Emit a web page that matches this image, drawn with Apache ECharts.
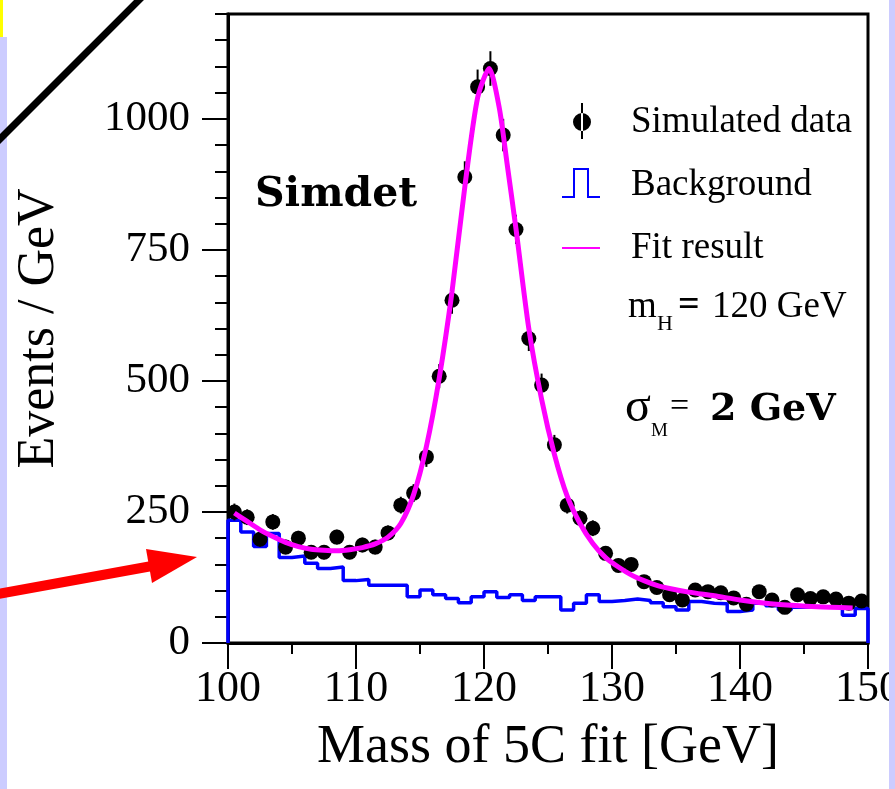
<!DOCTYPE html>
<html><head><meta charset="utf-8">
<script src="https://cdn.jsdelivr.net/npm/echarts@6/dist/echarts.min.js"></script>
<style>html,body{margin:0;padding:0;background:#fff;} #c{width:895px;height:789px;}</style>
</head><body><div id="c"></div>
<script>
// ---- data ----
const binLow = [100,101,102,103,104,105,106,107,108,109,110,111,112,113,114,115,116,117,118,119,
                120,121,122,123,124,125,126,127,128,129,130,131,132,133,134,135,136,137,138,139,
                140,141,142,143,144,145,146,147,148,149];
const binWidth = 1;
const dataValues = [250,240,198,231,183,200,173,173,202,173,187,183,210,263,286,355,509,654,889,1061,
                    1096,969,789,581,492,378,263,238,219,171,148,150,117,106,92,82,101,98,96,86,
                    74,98,82,68,92,85,88,84,76,80];
const dataErrors = [16,15,14,15,14,14,13,13,14,13,14,14,14,16,17,19,23,26,30,33,
                    33,31,28,24,22,19,16,15,15,13,12,12,11,10,10,9,10,10,10,9,
                    9,10,9,8,10,9,9,9,9,9];
const bgValues = [234,212,184,209,163,166,152,142,145,119,121,110,110,110,88,101,92,85,77,88,
                  98,87,92,81,88,88,63,76,92,79,81,84,81,77,69,63,79,76,75,60,
                  63,76,71,63,68,69,69,68,53,66];
const fitX = [100.5,101.5,102.5,103.5,104.5,105.5,106.5,107.5,108.5,109.5,110.5,111.5,112.5,113.5,114.5,
              115.5,116.5,117.5,118.5,119.5,120.4,121.2,121.8,122.5,123.5,124.5,125.5,126.5,127.5,128.5,
              129.5,130.5,131.5,132.5,133.5,134.5,136,138,140,142,144,146,148.8];
const fitY = [248,232,216,203,192,184,179,177,176,178,182,189,202,228,283,
              375,505,670,870,1040,1096,1020,915,790,600,465,360,280,228,190,
              163,145,130,119,110,104,97,90,82,76,72,69,67];
const xTicks = [100,110,120,130,140,150];
const yTicks = [0,250,500,750,1000];
const names = ['Simulated data','Background','Fit result'];

// ---- build series data ----
const pointData = binLow.map((b,i)=>[b+binWidth/2, dataValues[i], dataErrors[i]]);
const bgData = [[binLow[0],0]];
binLow.forEach((b,i)=>{ bgData.push([b,bgValues[i]]); bgData.push([b+binWidth,bgValues[i]]); });
bgData.push([binLow[binLow.length-1]+binWidth,0]);
const fitData = fitX.map((x,i)=>[x,fitY[i]]);

const serif = 'Liberation Serif, Times New Roman, serif';
const corners = 'M0,0 L0.2,0 L0,0.2 Z M64,40 L63.8,40 L64,39.8 Z ';
const iconData = 'path://' + corners + 'M19,1 L21,1 L21,37 L19,37 Z M11,20 A9,9 0 1 0 29,20 A9,9 0 1 0 11,20 Z';
const iconBg = 'path://' + corners + 'M0,31 L11,31 L11,3 L27,3 L27,31 L38,31 L38,33 L25,33 L25,5 L13,5 L13,33 L0,33 Z';
const iconFit = 'path://' + corners + 'M0,19 L38,19 L38,21 L0,21 Z';

function legendItem(name, icon, top){
  return {data:[{name:name, icon:icon}], left:562, top:top, padding:0, itemWidth:64, itemHeight:40,
          symbolKeepAspect:true, selectedMode:false, itemStyle:{borderWidth:0, opacity:1},
          textStyle:{fontSize:37, fontFamily:serif, color:'#000'}};
}

const chart = echarts.init(document.getElementById('c'), null, {renderer:'canvas'});
chart.setOption({
  animation:false,
  backgroundColor:'#fff',
  grid:{left:228, right:27, top:14, bottom:146, show:true, borderColor:'#000', borderWidth:3,
        backgroundColor:'#fff', containLabel:false, outerBoundsMode:'none'},
  legend:[legendItem(names[0], iconData, 102), legendItem(names[1], iconBg, 165), legendItem(names[2], iconFit, 228)],
  xAxis:{type:'value', min:xTicks[0], max:xTicks[xTicks.length-1], interval:10,
    name:'Mass of 5C fit [GeV]', nameLocation:'middle', nameGap:78, nameMoveOverlap:false,
    nameTextStyle:{fontSize:54, fontFamily:serif, color:'#000'},
    axisLine:{show:true, onZero:false, lineStyle:{color:'#000', width:3}},
    axisTick:{show:true, length:26, lineStyle:{color:'#000', width:2}},
    minorTick:{show:true, splitNumber:2, length:11, lineStyle:{color:'#000', width:2}},
    splitLine:{show:false}, minorSplitLine:{show:false},
    axisLabel:{fontSize:44, fontFamily:serif, color:'#000', margin:24, showMinLabel:true, showMaxLabel:true,
               formatter:function(v){return String(v);}}
  },
  yAxis:[
    {type:'value', min:0, max:1200, interval:50, position:'left',
     name:'Events / GeV', nameLocation:'middle', nameGap:163, nameMoveOverlap:false,
     nameTextStyle:{fontSize:52, fontFamily:serif, color:'#000'},
     axisLine:{show:true, onZero:false, lineStyle:{color:'#000', width:3}},
     axisTick:{show:true, length:26, customValues:yTicks, lineStyle:{color:'#000', width:2}},
     axisLabel:{fontSize:43, fontFamily:serif, color:'#000', margin:38, customValues:yTicks,
                formatter:function(v){return String(v);}},
     splitLine:{show:false}},
    {type:'value', min:0, max:1200, interval:50, position:'left', offset:0,
     axisLine:{show:false}, axisLabel:{show:false}, splitLine:{show:false},
     axisTick:{show:true, length:13, lineStyle:{color:'#000', width:2}}}
  ],
  series:[
    {name:names[1], type:'line', data:bgData, symbol:'none', lineStyle:{color:'#0000ff', width:3.5},
     itemStyle:{color:'#0000ff'}, z:2},
    {name:names[0], type:'scatter', data:pointData, symbol:'circle', symbolSize:15,
     itemStyle:{color:'#000', opacity:1}, z:3},
    {name:names[0]+' errors', type:'custom', data:pointData, z:3,
     encode:{x:0, y:1},
     renderItem:function(params, api){
       const x = api.value(0), v = api.value(1), e = api.value(2);
       const p1 = api.coord([x, v-e]), p2 = api.coord([x, v+e]);
       return {type:'line', shape:{x1:p1[0], y1:p1[1], x2:p2[0], y2:p2[1]}, style:{stroke:'#000', lineWidth:2}};
     }},
    {name:names[2], type:'line', data:fitData, symbol:'none', smooth:0.25,
     lineStyle:{color:'#ff00ff', width:5}, itemStyle:{color:'#ff00ff'}, z:4}
  ],
  graphic:[
    {type:'text', left:255, top:175, style:{text:'Simdet', font:'bold 41px "DejaVu Serif"', fill:'#000'}},
    {type:'text', left:628, top:289, style:{text:'m', font:'37px "Liberation Serif"', fill:'#000'}},
    {type:'text', left:657, top:313, style:{text:'H', font:'22px "Liberation Serif"', fill:'#000'}},
    {type:'text', left:678, top:287, style:{text:'=', font:'bold 38px "Liberation Serif"', fill:'#000'}},
    {type:'text', left:712, top:289, style:{text:'120 GeV', font:'37px "Liberation Serif"', fill:'#000'}},
    {type:'text', left:625, top:384, style:{text:'σ', font:'48px "Liberation Serif"', fill:'#000'}},
    {type:'text', left:651, top:422, style:{text:'M', font:'19px "Liberation Serif"', fill:'#000'}},
    {type:'text', left:670, top:390, style:{text:'=', font:'34px "Liberation Serif"', fill:'#000'}},
    {type:'text', left:710, top:391, style:{text:'2 GeV', font:'bold 38px "DejaVu Serif"', fill:'#000'}},
    // slide decorations
    {type:'rect', z:100, shape:{x:0, y:37, width:7, height:752}, style:{fill:'#ccccff'}},
    {type:'rect', z:100, shape:{x:889, y:0, width:6, height:789}, style:{fill:'#ccccff'}},
    {type:'rect', z:100, shape:{x:0, y:0, width:3, height:37}, style:{fill:'#ffff00'}},
    {type:'line', z:101, shape:{x1:-5, y1:144, x2:144, y2:-5}, style:{stroke:'#000', lineWidth:7}},
    {type:'line', z:101, shape:{x1:-2, y1:594, x2:152, y2:566}, style:{stroke:'#ff0000', lineWidth:10}},
    {type:'polygon', z:101, shape:{points:[[197,557],[146,549],[152,583]]}, style:{fill:'#ff0000'}}
  ]
});
</script></body></html>
